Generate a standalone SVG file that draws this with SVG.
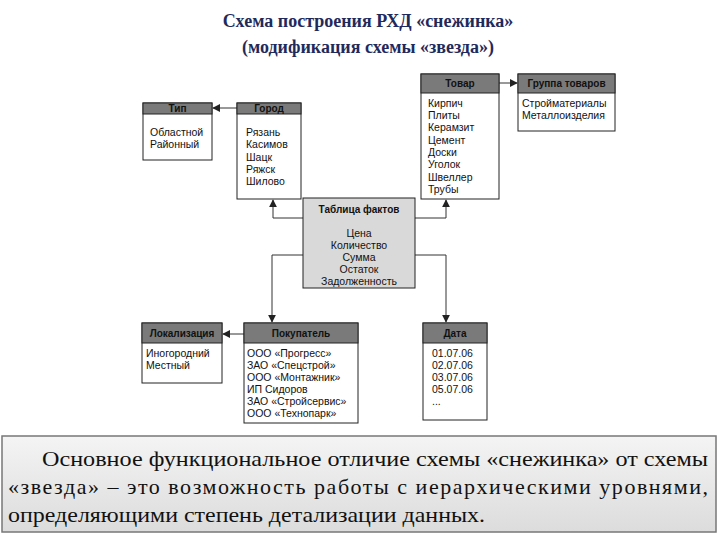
<svg xmlns="http://www.w3.org/2000/svg" width="720" height="540" viewBox="0 0 720 540">
<defs>
<style>
.b{fill:#fff;stroke:#222;stroke-width:1}
.h{fill:#7a7a7a;stroke:#222;stroke-width:1}
.ht{font-family:"Liberation Sans",Arial,sans-serif;font-size:10px;font-weight:bold;fill:#111;text-anchor:middle}
.t{font-family:"Liberation Sans",Arial,sans-serif;font-size:10.5px;fill:#111}
.c{fill:none;stroke:#333;stroke-width:1}
.ti{font-family:"Liberation Serif","Times New Roman",serif;font-size:18px;font-weight:bold;fill:#1f2a5c;text-anchor:middle}
.p{font-family:"Liberation Serif","DejaVu Serif",serif;font-size:22px;font-weight:normal;fill:#111}
</style>
<marker id="a" viewBox="0 0 10 10" refX="9" refY="5" markerWidth="8" markerHeight="8" orient="auto-start-reverse"><path d="M0,0L10,5L0,10z" fill="#222"/></marker>
<linearGradient id="g" x1="0" y1="0" x2="0" y2="1"><stop offset="0" stop-color="#f4f4f4"/><stop offset="1" stop-color="#dcdcdc"/></linearGradient>
</defs>
<rect width="720" height="540" fill="#fff"/>
<text class="ti" x="368" y="27">Схема построения РХД «снежинка»</text>
<text class="ti" x="368" y="53">(модификация схемы «звезда»)</text>
<g id="connectors">
<path class="c" d="M237,108H213" marker-end="url(#a)"/>
<path class="c" d="M499,83H517" marker-end="url(#a)"/>
<path class="c" d="M303,218H273V200" marker-end="url(#a)"/>
<path class="c" d="M415,218H446V200" marker-end="url(#a)"/>
<path class="c" d="M303,255H272V322" marker-end="url(#a)"/>
<path class="c" d="M415,255H446V322" marker-end="url(#a)"/>
<path class="c" d="M244,334H223" marker-end="url(#a)"/>
</g>
<g id="tip"><rect class="b" x="143" y="103" width="69" height="57"/><rect class="h" x="143" y="103" width="69" height="11"/><text class="ht" x="177.5" y="112">Тип</text>
<text class="t" x="150" y="136">Областной</text><text class="t" x="150" y="148">Районный</text></g>
<g id="gorod"><rect class="b" x="237" y="103" width="64" height="96"/><rect class="h" x="237" y="103" width="64" height="11"/><text class="ht" x="269" y="112">Город</text>
<text class="t" x="246" y="136">Рязань</text><text class="t" x="246" y="148">Касимов</text><text class="t" x="246" y="161">Шацк</text><text class="t" x="246" y="173">Ряжск</text><text class="t" x="246" y="185">Шилово</text></g>
<g id="tovar"><rect class="b" x="421" y="74" width="78" height="125"/><rect class="h" x="421" y="74" width="78" height="19"/><text class="ht" x="460" y="87">Товар</text>
<text class="t" x="428" y="107">Кирпич</text><text class="t" x="428" y="119">Плиты</text><text class="t" x="428" y="131">Керамзит</text><text class="t" x="428" y="144">Цемент</text><text class="t" x="428" y="156">Доски</text><text class="t" x="428" y="168">Уголок</text><text class="t" x="428" y="181">Швеллер</text><text class="t" x="428" y="193">Трубы</text></g>
<g id="gruppa"><rect class="b" x="518" y="74" width="97" height="57"/><rect class="h" x="518" y="74" width="97" height="19"/><text class="ht" x="566.5" y="87">Группа товаров</text>
<text class="t" x="522" y="107">Стройматериалы</text><text class="t" x="522" y="119">Металлоизделия</text></g>
<g id="fakty"><rect x="303" y="198" width="112" height="90" fill="#d9d9d9" stroke="#222"/><text class="ht" x="359" y="213">Таблица фактов</text>
<g class="t" text-anchor="middle"><text x="359" y="237">Цена</text><text x="359" y="249">Количество</text><text x="359" y="261">Сумма</text><text x="359" y="273">Остаток</text><text x="359" y="285">Задолженность</text></g></g>
<g id="lokal"><rect class="b" x="142" y="323" width="80" height="60"/><rect class="h" x="142" y="323" width="80" height="20"/><text class="ht" x="182" y="337">Локализация</text>
<text class="t" x="146" y="357">Иногородний</text><text class="t" x="146" y="369">Местный</text></g>
<g id="pokup"><rect class="b" x="244" y="323" width="114" height="100"/><rect class="h" x="244" y="323" width="114" height="20"/><text class="ht" x="301" y="337">Покупатель</text>
<text class="t" x="247" y="357">ООО «Прогресс»</text><text class="t" x="247" y="369">ЗАО «Спецстрой»</text><text class="t" x="247" y="381">ООО «Монтажник»</text><text class="t" x="247" y="393">ИП Сидоров</text><text class="t" x="247" y="405">ЗАО «Стройсервис»</text><text class="t" x="247" y="417">ООО «Технопарк»</text></g>
<g id="data"><rect class="b" x="423" y="323" width="64" height="97"/><rect class="h" x="423" y="323" width="64" height="20"/><text class="ht" x="455" y="337">Дата</text>
<text class="t" x="432" y="357">01.07.06</text><text class="t" x="432" y="369">02.07.06</text><text class="t" x="432" y="381">03.07.06</text><text class="t" x="432" y="393">05.07.06</text><text class="t" x="432" y="405">...</text></g>
<g id="note"><rect x="2" y="436" width="714" height="96" fill="url(#g)" stroke="#777" stroke-width="1.5"/>
<text class="p" x="42" y="466" textLength="666" lengthAdjust="spacingAndGlyphs">Основное функциональное отличие схемы «снежинка» от схемы</text>
<text class="p" x="8" y="494" textLength="700" lengthAdjust="spacing">«звезда» – это возможность работы с иерархическими уровнями,</text>
<text class="p" x="8" y="522" textLength="477" lengthAdjust="spacingAndGlyphs">определяющими степень детализации данных.</text></g>
</svg>
